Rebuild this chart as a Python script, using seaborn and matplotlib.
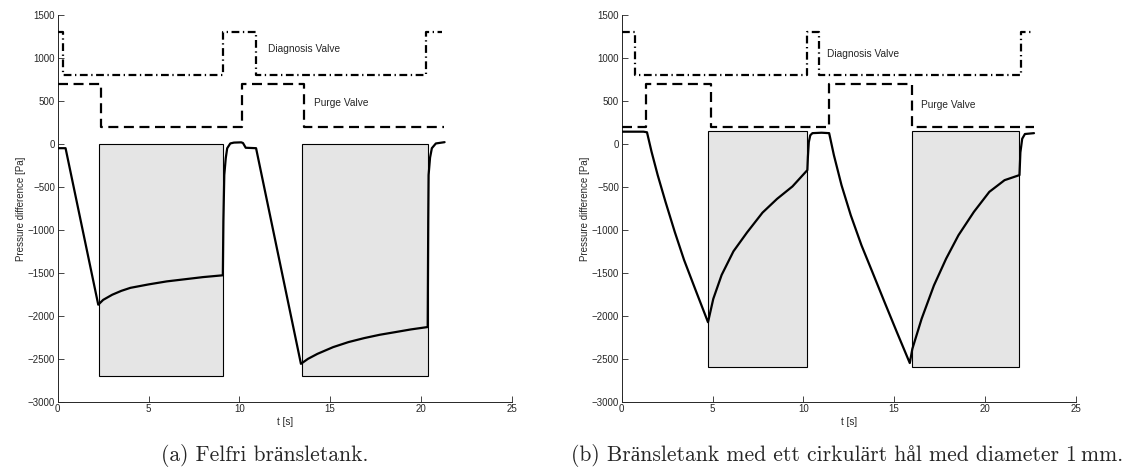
import numpy as np
import pandas as pd
import matplotlib
matplotlib.use("Agg")
import matplotlib.pyplot as plt
import matplotlib.patches as mpatches
import seaborn as sns

# ---------------- data ----------------
# Panel (a): fault-free tank
diag_a_t = [0, 0.31, 9.09, 10.92, 20.28, 21.18]
diag_a_v = [1300, 800, 1300, 800, 1300, 1300]
purge_a_t = [0, 2.39, 10.17, 13.56, 21.29]
purge_a_v = [700, 200, 700, 200, 200]
press_a_t = [0, 0.43, 2.23, 2.5, 3.0, 3.5, 4.0, 5.0, 6.0, 7.0, 8.0, 9.09,
             9.12, 9.17, 9.25, 9.33, 9.5, 9.7, 10.1, 10.2, 10.35, 10.92,
             13.39, 13.78, 14.3, 15.16, 16.01, 16.87, 17.73, 18.59, 19.44, 20.37,
             20.40, 20.42, 20.5, 20.6, 20.82, 21.3]
press_a_v = [-50, -50, -1871, -1815, -1755, -1710, -1675, -1635, -1600, -1575, -1550, -1529,
             -900, -362, -167, -51, 5, 15, 18, 10, -45, -50,
             -2559, -2501, -2443, -2365, -2306, -2260, -2221, -2190, -2159, -2131,
             -900, -362, -160, -50, 5, 20]
rect_a_x0 = [2.26, 13.44]
rect_a_x1 = [9.09, 20.37]
rect_a_y0 = -2700
rect_a_y1 = 0

# Panel (b): tank with 1 mm hole
diag_b_t = [0, 0.73, 10.22, 10.87, 21.97, 22.7]
diag_b_v = [1300, 800, 1300, 800, 1300, 1300]
purge_b_t = [0, 1.36, 4.9, 11.42, 16.0, 22.7]
purge_b_v = [200, 700, 200, 700, 200, 200]
press_b_t = [0, 1.2, 1.39, 1.64, 1.98, 2.41, 2.92, 3.43, 4.10, 4.75,
             5.04, 5.5, 6.15, 6.9, 7.75, 8.55, 9.4, 10.22,
             10.25, 10.3, 10.38, 10.5, 11.0, 11.42,
             11.68, 12.1, 12.61, 13.2, 13.8, 14.47, 15.15, 15.86,
             16.0, 16.51, 17.19, 17.86, 18.54, 19.39, 20.24, 21.08, 21.9,
             21.95, 22.05, 22.2, 22.7]
press_b_v = [142, 142, 135, -91, -364, -675, -1025, -1350, -1720, -2075,
             -1803, -1525, -1250, -1030, -800, -640, -495, -305,
             -150, 20, 100, 125, 130, 125,
             -130, -480, -830, -1180, -1491, -1841, -2191, -2550,
             -2386, -2036, -1647, -1336, -1063, -791, -558, -422, -363,
             -100, 60, 115, 125]
rect_b_x0 = [4.75, 16.0]
rect_b_x1 = [10.22, 21.9]
rect_b_y0 = -2600
rect_b_y1 = 150

captions = ["(a) Felfri bränsletank.",
            "(b) Bränsletank med ett cirkulärt hål med diameter 1\u2009mm."]
diag_label = "Diagnosis Valve"
purge_label = "Purge Valve"
diag_label_pos = [(11.6, 1100), (11.32, 1050)]
purge_label_pos = [(14.1, 480), (16.5, 450)]

x_ticks = [0, 5, 10, 15, 20, 25]
y_ticks = [-3000, -2500, -2000, -1500, -1000, -500, 0, 500, 1000, 1500]

# ---------------- style ----------------
sns.set_style("ticks")
plt.rcParams['font.family'] = ['Liberation Sans', 'DejaVu Sans']
plt.rcParams['xtick.direction'] = 'in'
plt.rcParams['ytick.direction'] = 'in'

fig = plt.figure(figsize=(11.28, 4.71), dpi=100)
ax_a = fig.add_axes([0.0512, 0.1471, 0.4025, 0.8211])
ax_b = fig.add_axes([0.5512, 0.1471, 0.4025, 0.8211])

panels = [
    (ax_a, diag_a_t, diag_a_v, purge_a_t, purge_a_v, press_a_t, press_a_v,
     rect_a_x0, rect_a_x1, rect_a_y0, rect_a_y1),
    (ax_b, diag_b_t, diag_b_v, purge_b_t, purge_b_v, press_b_t, press_b_v,
     rect_b_x0, rect_b_x1, rect_b_y0, rect_b_y1),
]

for i, (ax, dt, dv, pt, pv, st, sv, rx0, rx1, ry0, ry1) in enumerate(panels):
    for x0, x1 in zip(rx0, rx1):
        ax.add_patch(mpatches.Rectangle((x0, ry0), x1 - x0, ry1 - ry0,
                                        facecolor='#e5e5e5', edgecolor='black',
                                        linewidth=0.8, zorder=1))
    df_d = pd.DataFrame({"t": dt, "v": dv})
    df_p = pd.DataFrame({"t": pt, "v": pv})
    df_s = pd.DataFrame({"t": st, "v": sv})
    sns.lineplot(data=df_d, x="t", y="v", ax=ax, estimator=None, sort=False,
                 drawstyle='steps-post', color='black', linewidth=1.6,
                 linestyle=(0, (3.5, 1.6, 0.6, 1.6)), zorder=3)
    sns.lineplot(data=df_p, x="t", y="v", ax=ax, estimator=None, sort=False,
                 drawstyle='steps-post', color='black', linewidth=1.6,
                 linestyle=(0, (4.5, 2.5)), zorder=3)
    sns.lineplot(data=df_s, x="t", y="v", ax=ax, estimator=None, sort=False,
                 color='black', linewidth=1.6, zorder=4)
    ax.text(diag_label_pos[i][0], diag_label_pos[i][1], diag_label,
            fontsize=7.3, ha='left', va='center')
    ax.text(purge_label_pos[i][0], purge_label_pos[i][1], purge_label,
            fontsize=7.3, ha='left', va='center')

    ax.set_xlim(0, 25)
    ax.set_ylim(-3000, 1500)
    ax.set_xticks(x_ticks)
    ax.set_yticks(y_ticks)
    ax.tick_params(labelsize=7, length=4, width=0.6, pad=2)
    ax.set_xlabel("t [s]", fontsize=7, labelpad=2)
    ax.set_ylabel("Pressure difference [Pa]", fontsize=7, labelpad=1)
    for s in ['top', 'right']:
        ax.spines[s].set_visible(False)
    for s in ['left', 'bottom']:
        ax.spines[s].set_linewidth(0.7)

fig.text(0.235, 0.033, captions[0], fontsize=15.5, family=['cmr10', 'Liberation Serif'],
         ha='center', va='center')
fig.text(0.751, 0.033, captions[1], fontsize=15.5, family=['cmr10', 'Liberation Serif'],
         ha='center', va='center')

fig.savefig("out.png", dpi=100)
